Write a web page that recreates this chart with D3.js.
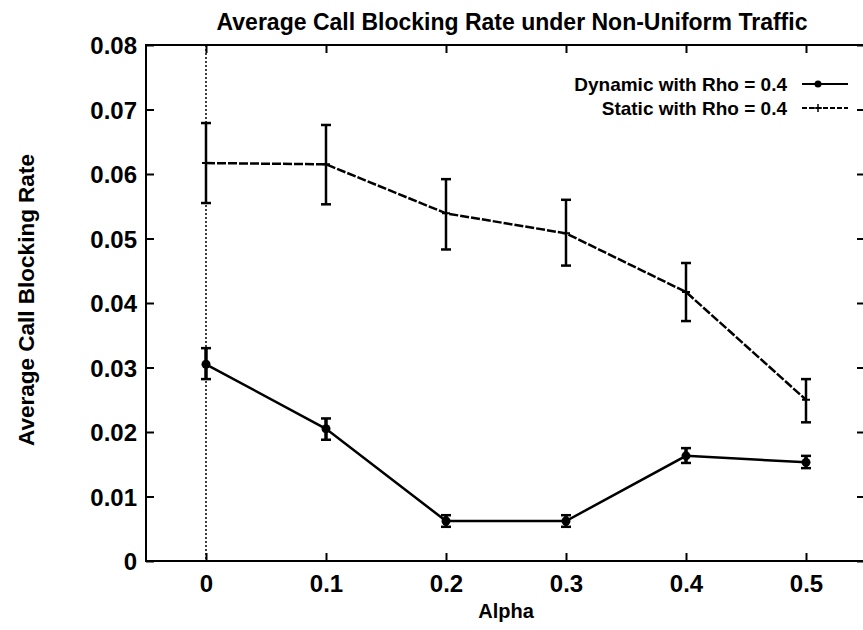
<!DOCTYPE html>
<html>
<head>
<meta charset="utf-8">
<script src="https://cdn.jsdelivr.net/npm/d3@7"></script>
<style>
  body { margin: 0; background: #fff; }
  text { font-family: "Liberation Sans", Arial, sans-serif; fill: #000; }
</style>
</head>
<body>
<script>
// values
const alphas = [0, 0.1, 0.2, 0.3, 0.4, 0.5];

const dynamicMean = [0.0305, 0.0205, 0.0062, 0.0062, 0.0163, 0.0153];
const dynamicLow  = [0.0282, 0.0188, 0.0053, 0.0053, 0.0152, 0.0144];
const dynamicHigh = [0.0330, 0.0221, 0.0071, 0.0071, 0.0175, 0.0163];

const staticMean = [0.0617, 0.0615, 0.0539, 0.0508, 0.0417, 0.0250];
const staticLow  = [0.0555, 0.0553, 0.0483, 0.0458, 0.0372, 0.0215];
const staticHigh = [0.0679, 0.0676, 0.0592, 0.0560, 0.0462, 0.0282];

const xTicks = [0, 0.1, 0.2, 0.3, 0.4, 0.5];
const yTicks = [0, 0.01, 0.02, 0.03, 0.04, 0.05, 0.06, 0.07, 0.08];

const titleText = 'Average Call Blocking Rate under Non-Uniform Traffic';
const seriesNames = ['Dynamic with Rho = 0.4', 'Static with Rho = 0.4'];

const W = 863, H = 630;
const plot = { left: 146, right: 866, top: 45, bottom: 561 };

const svg = d3.select('body').append('svg')
    .attr('width', W)
    .attr('height', H);

const x = d3.scaleLinear().domain([-0.05, 0.55]).range([plot.left, plot.right]);
const y = d3.scaleLinear().domain([0, 0.08]).range([plot.bottom, plot.top]);

const tickLen = 8;

// zero axis (dotted, gnuplot style)
svg.append('line')
    .attr('x1', x(0)).attr('x2', x(0))
    .attr('y1', y(0.08)).attr('y2', y(0))
    .attr('stroke', '#000')
    .attr('stroke-width', 1.5)
    .attr('stroke-dasharray', '2,2');

// axes with inward ticks, mirrored on top/right
const xAxis = d3.axisBottom(x).tickValues(xTicks).tickSize(-tickLen).tickPadding(14)
    .tickFormat(d3.format('.1~f'));
const yAxis = d3.axisLeft(y).tickValues(yTicks).tickSize(-tickLen).tickPadding(9)
    .tickFormat(d => d === 0 ? '0' : d3.format('.2f')(d));

const gx = svg.append('g').attr('transform', `translate(0,${plot.bottom})`).call(xAxis);
const gy = svg.append('g').attr('transform', `translate(${plot.left},0)`).call(yAxis);
const gxTop = svg.append('g').attr('transform', `translate(0,${plot.top})`)
    .call(d3.axisTop(x).tickValues(xTicks).tickSize(-tickLen).tickFormat(''));
const gyRight = svg.append('g').attr('transform', `translate(${plot.right - 1},0)`)
    .call(d3.axisRight(y).tickValues(yTicks).tickSize(-tickLen).tickFormat(''));

[gx, gy, gxTop, gyRight].forEach(g => {
    g.select('.domain').remove();
    g.selectAll('.tick line').attr('stroke', '#000').attr('stroke-width', 2);
});
[gx, gy].forEach(g => {
    g.selectAll('.tick text')
        .style('font-size', '24px')
        .style('font-weight', 'bold');
});
gy.selectAll('.tick text').attr('dy', '0.36em');

// frame
svg.append('rect')
    .attr('x', plot.left).attr('y', plot.top)
    .attr('width', plot.right - plot.left)
    .attr('height', plot.bottom - plot.top)
    .attr('fill', 'none')
    .attr('stroke', '#000')
    .attr('stroke-width', 2);

const line = d3.line().x(d => x(d.a)).y(d => y(d.v));

function drawSeries(mean, low, high, opts) {
    const rows = alphas.map((a, i) => ({ a, v: mean[i], lo: low[i], hi: high[i] }));

    svg.append('path')
        .datum(rows)
        .attr('d', line)
        .attr('fill', 'none')
        .attr('stroke', '#000')
        .attr('stroke-width', 2.5)
        .attr('stroke-dasharray', opts.dash);

    const bars = svg.append('g').selectAll('g').data(rows).enter().append('g');
    bars.append('line')
        .attr('x1', d => x(d.a)).attr('x2', d => x(d.a))
        .attr('y1', d => y(d.lo)).attr('y2', d => y(d.hi))
        .attr('stroke', '#000').attr('stroke-width', opts.barWidth);
    ['lo', 'hi'].forEach(k => {
        bars.append('line')
            .attr('x1', d => x(d.a) - 5).attr('x2', d => x(d.a) + 5)
            .attr('y1', d => y(d[k])).attr('y2', d => y(d[k]))
            .attr('stroke', '#000').attr('stroke-width', 2.5);
    });

    if (opts.marker === 'circle') {
        bars.append('circle')
            .attr('cx', d => x(d.a)).attr('cy', d => y(d.v))
            .attr('r', 4.5).attr('fill', '#000');
    } else {
        bars.append('path')
            .attr('d', d => `M${x(d.a) - 4},${y(d.v)}h8M${x(d.a)},${y(d.v) - 4}v8`)
            .attr('stroke', '#000').attr('stroke-width', 2);
    }
}

drawSeries(staticMean, staticLow, staticHigh, { dash: '9,2', barWidth: 2.5, marker: 'plus' });
drawSeries(dynamicMean, dynamicLow, dynamicHigh, { dash: null, barWidth: 3.5, marker: 'circle' });

// legend
const legend = svg.append('g');
seriesNames.forEach((name, i) => {
    const ly = 84 + i * 24;
    legend.append('text')
        .attr('x', 787).attr('y', ly)
        .attr('dy', '0.36em')
        .attr('text-anchor', 'end')
        .style('font-size', '19px')
        .style('font-weight', 'bold')
        .text(name);
    legend.append('line')
        .attr('x1', 802).attr('x2', 848)
        .attr('y1', ly).attr('y2', ly)
        .attr('stroke', '#000')
        .attr('stroke-width', 2)
        .attr('stroke-dasharray', i === 1 ? '5,2' : null);
    if (i === 0) {
        legend.append('circle').attr('cx', 818).attr('cy', ly).attr('r', 3.5).attr('fill', '#000');
    } else {
        legend.append('path').attr('d', `M814,${ly}h8M818,${ly - 4}v8`)
            .attr('stroke', '#000').attr('stroke-width', 1.5);
    }
});

// title and axis labels
svg.append('text')
    .attr('x', 512).attr('y', 30)
    .attr('text-anchor', 'middle')
    .style('font-size', '23px')
    .style('font-weight', 'bold')
    .text(titleText);

svg.append('text')
    .attr('x', 506).attr('y', 618)
    .attr('text-anchor', 'middle')
    .style('font-size', '20px')
    .style('font-weight', 'bold')
    .text('Alpha');

svg.append('text')
    .attr('transform', 'translate(34,300) rotate(-90)')
    .attr('text-anchor', 'middle')
    .style('font-size', '22.5px')
    .style('font-weight', 'bold')
    .text('Average Call Blocking Rate');
</script>
</body>
</html>
